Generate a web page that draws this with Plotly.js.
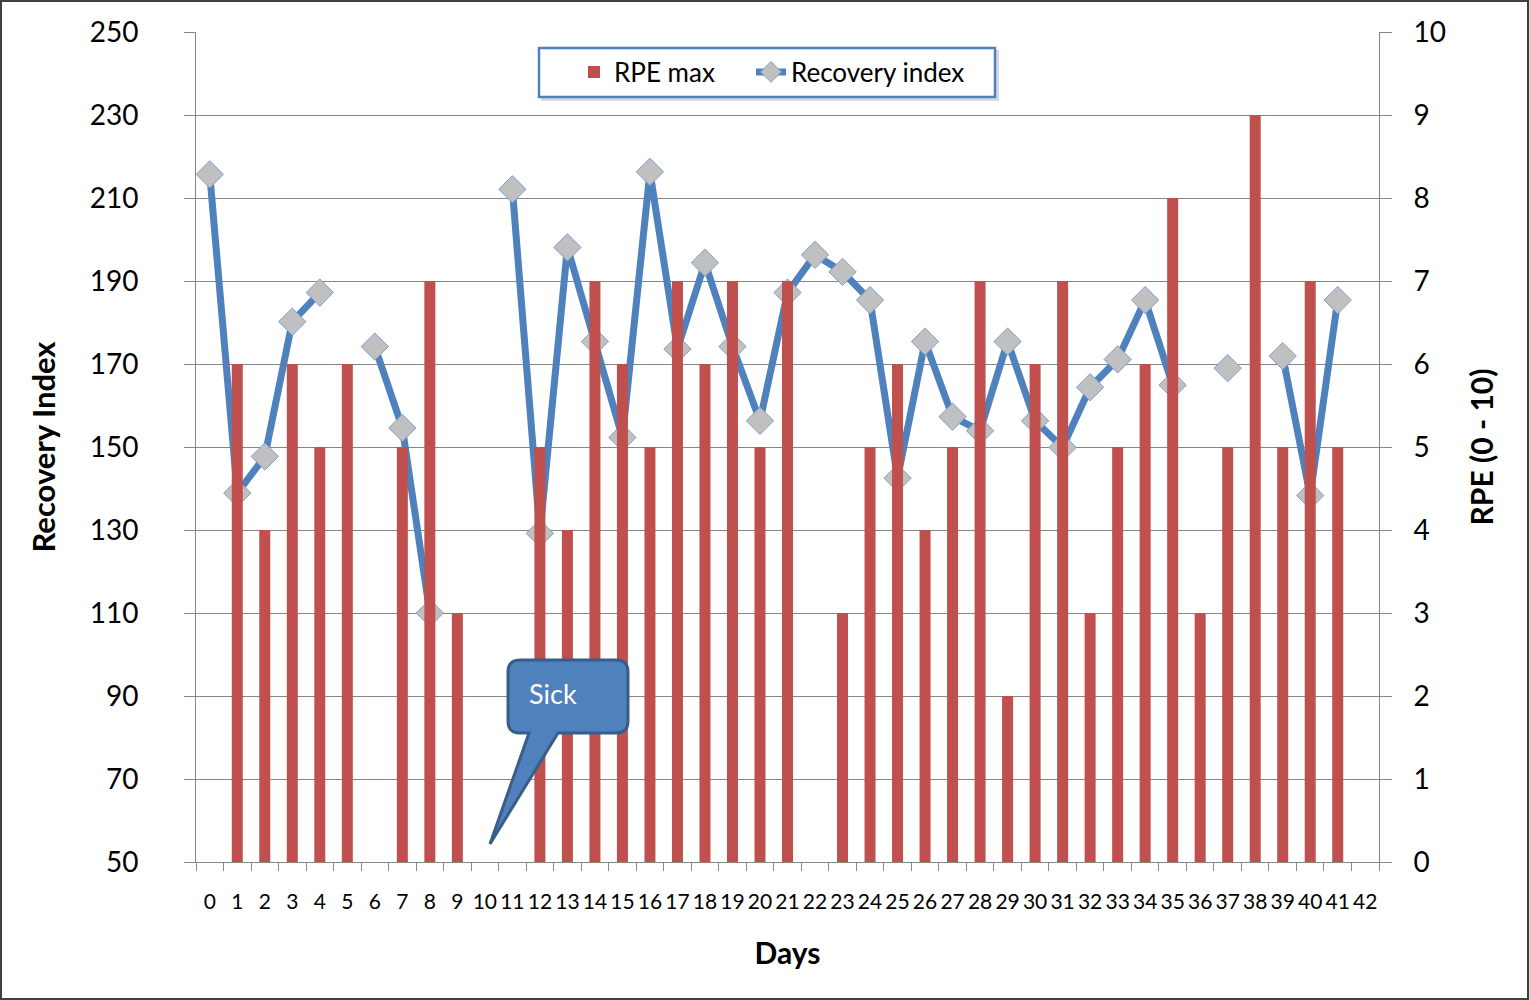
<!DOCTYPE html>
<html>
<head>
<meta charset="utf-8">
<script src="https://cdn.plot.ly/plotly-3.0.1.min.js"></script>
<style>
  html, body { margin: 0; padding: 0; background: #fff; }
  #wrap { position: relative; width: 1529px; height: 1000px; }
  #chart { position: absolute; left: 0; top: 0; width: 1529px; height: 1000px; }
  #frame { position: absolute; left: 0; top: 0; width: 1529px; height: 1000px; box-sizing: border-box; border: 2px solid #404040; pointer-events: none; }
</style>
</head>
<body>
<div id="wrap"><div id="chart"></div><div id="frame"></div></div>
<script>
// ---- data ----
const days = ["0","1","2","3","4","5","6","7","8","9","10","11","12","13","14","15","16","17","18","19","20",
  "21","22","23","24","25","26","27","28","29","30","31","32","33","34","35","36","37","38","39","40","41","42"];
const rpeMax = [null,6,4,6,5,6,null,5,7,3,null,null,5,4,7,6,5,7,6,7,5,7,null,3,5,6,4,5,7,2,6,7,3,5,6,8,3,5,9,5,7,5,null];
const recoveryIndex = [215.7,138.9,147.7,180.2,187.2,null,174.2,154.6,110,null,null,212.1,129.2,198.1,175.4,152.3,216.3,
  173.6,194.4,174.2,156.3,187.2,196.3,192.2,185.4,142.5,175.4,157.3,153.9,175.4,156.3,149.9,164.4,171.1,185.4,164.9,
  null,169,null,171.9,138.3,185.4,null];
const leftTicks = [50,70,90,110,130,150,170,190,210,230,250];
const rightTicks = [0,1,2,3,4,5,6,7,8,9,10];

// ---- layout geometry ----
const W = 1529, H = 1000;
const M = {l: 196, r: 150, t: 32, b: 138};
const PW = W - M.l - M.r, PH = H - M.t - M.b;
const px = x => (x - M.l) / PW;
const py = y => (H - M.b - y) / PH;
const FONT = "Lato, 'Open Sans', sans-serif";

// callout path (pixel outline converted to paper coords)
function calloutPath() {
  const x0 = 508, x1 = 628, y0 = 660, y1 = 733, r = 12;
  const pts = [
    ["M", x0 + r, y0], ["L", x1 - r, y0], ["Q", x1, y0, x1, y0 + r], ["L", x1, y1 - r],
    ["Q", x1, y1, x1 - r, y1], ["L", 558, y1], ["L", 490, 844], ["L", 529, y1],
    ["L", x0 + r, y1], ["Q", x0, y1, x0, y1 - r], ["L", x0, y0 + r], ["Q", x0, y0, x0 + r, y0]
  ];
  let s = "";
  for (const p of pts) {
    s += p[0];
    const c = [];
    for (let i = 1; i < p.length; i += 2) c.push(px(p[i]).toFixed(5) + "," + py(p[i + 1]).toFixed(5));
    s += c.join(" ") + " ";
  }
  return s + "Z";
}

const traces = [
  {
    type: "bar", name: "RPE max", x: days, y: rpeMax, yaxis: "y2", legend: "legend",
    width: 0.4, marker: {color: "#C0504D"}
  },
  {
    type: "scatter", mode: "lines+markers", name: "Recovery index", x: days, y: recoveryIndex, yaxis: "y",
    legend: "legend2",
    connectgaps: false,
    line: {color: "#4F81BD", width: 7},
    marker: {symbol: "diamond", size: 21, color: "#C0C0C0", line: {color: "#7F9FCF", width: 1}}
  }
];

const legendBase = {
  orientation: "h", yanchor: "middle", xanchor: "left",
  bgcolor: "rgba(0,0,0,0)", borderwidth: 0,
  font: {family: FONT, size: 26, color: "#000"}
};

const layout = {
  width: W, height: H,
  margin: M,
  paper_bgcolor: "#ffffff", plot_bgcolor: "#ffffff",
  font: {family: FONT, color: "#000"},
  showlegend: true,
  legend: Object.assign({}, legendBase, {x: px(574), y: py(72)}),
  legend2: Object.assign({}, legendBase, {x: px(751), y: py(72)}),
  xaxis: {
    type: "category", categoryorder: "array", categoryarray: days,
    range: [-0.5, 42.5],
    tickson: "boundaries", ticks: "outside", ticklen: 8, tickcolor: "#868686", tickwidth: 1,
    showline: true, linecolor: "#868686", linewidth: 1,
    showgrid: false, zeroline: false,
    tickfont: {family: FONT, size: 21, color: "#000"},
    ticklabelstandoff: 21,
    tickangle: 0,
    title: {text: "<b>Days</b>", font: {family: FONT, size: 30, color: "#000"}, standoff: 30}
  },
  yaxis: {
    range: [50, 250], tickvals: leftTicks, ticktext: leftTicks.map(String),
    showgrid: true, gridcolor: "#868686", gridwidth: 1,
    showline: true, linecolor: "#868686", linewidth: 1,
    ticks: "outside", ticklen: 11, tickcolor: "#868686",
    zeroline: false,
    tickfont: {family: FONT, size: 28, color: "#000"},
    ticklabelstandoff: 40,
    title: {text: "<b>Recovery Index</b>", font: {family: FONT, size: 31, color: "#000"}, standoff: 24}
  },
  yaxis2: {
    overlaying: "y", side: "right",
    range: [0, 10], tickvals: rightTicks, ticktext: rightTicks.map(String),
    showgrid: false,
    showline: true, linecolor: "#868686", linewidth: 1,
    ticks: "outside", ticklen: 12, tickcolor: "#868686",
    zeroline: false,
    tickfont: {family: FONT, size: 28, color: "#000"},
    ticklabelstandoff: 16,
    title: {text: "<b>RPE (0 - 10)</b>", font: {family: FONT, size: 30, color: "#000"}, standoff: 26}
  },
  shapes: [
    {type: "rect", xref: "paper", yref: "paper", x0: px(541), x1: px(999), y0: py(50), y1: py(101),
     fillcolor: "rgba(0,0,0,0.15)", line: {width: 0}, layer: "above"},
    {type: "rect", xref: "paper", yref: "paper", x0: px(539), x1: px(995), y0: py(48), y1: py(97),
     fillcolor: "#ffffff", line: {color: "#4F81BD", width: 2.5}, layer: "above"},
    {type: "path", xref: "paper", yref: "paper", path: calloutPath(),
     fillcolor: "#4F81BD", line: {color: "#385D8A", width: 3}, layer: "above"}
  ],
  annotations: [
    {text: "Sick", xref: "paper", yref: "paper", x: px(527), y: py(693), xanchor: "left", yanchor: "middle",
     showarrow: false, font: {family: FONT, size: 27, color: "#ffffff"}}
  ]
};

Plotly.newPlot("chart", traces, layout, {displayModeBar: false, staticPlot: true});
</script>
</body>
</html>
